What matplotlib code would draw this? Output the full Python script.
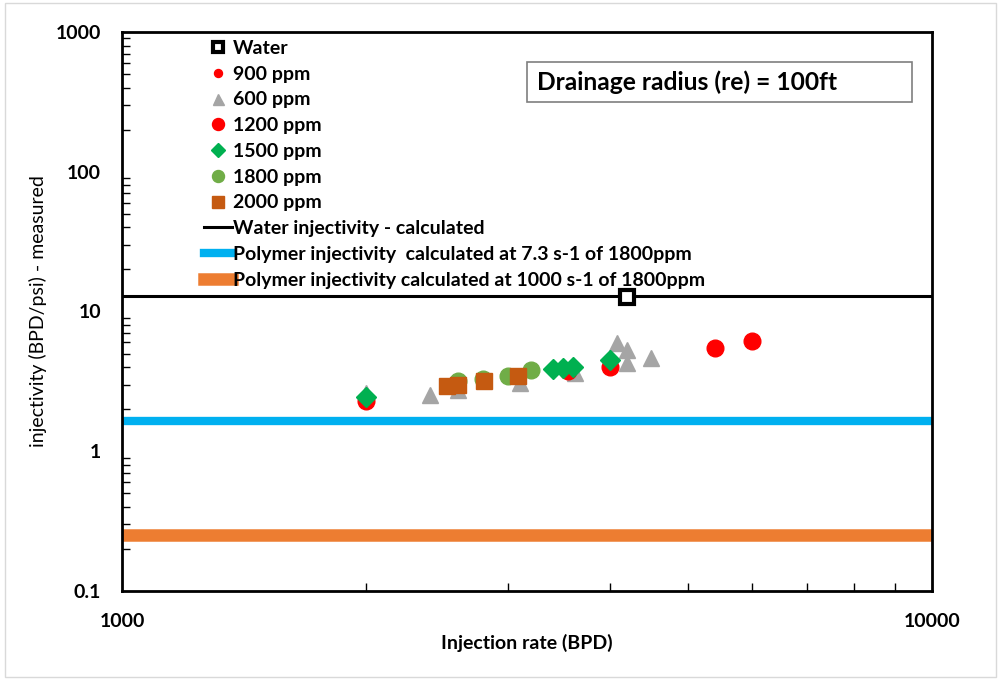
import matplotlib
matplotlib.use('Agg')
import matplotlib.pyplot as plt
from matplotlib.patches import Rectangle
import numpy as np

plt.rcParams['font.family'] = ['Lato', 'DejaVu Sans']

# measured data (injection rate BPD, injectivity BPD/psi)
water_x = [4200]
water_y = [12.6]
p900_x = [2000, 4000]
p900_y = [2.3, 4.0]
p600_x = [2000, 2400, 2600, 3100, 3620, 4080, 4200, 4200, 4500]
p600_y = [2.6, 2.54, 2.76, 3.1, 3.65, 5.97, 5.34, 4.31, 4.64]
p1200_x = [2000, 3550, 4000, 5400, 6000]
p1200_y = [2.3, 3.73, 4.03, 5.49, 6.13]
p1500_x = [2000, 3400, 3500, 3600, 4000]
p1500_y = [2.43, 3.88, 3.95, 4.01, 4.53]
p1800_x = [2600, 2790, 3000, 3200]
p1800_y = [3.17, 3.31, 3.44, 3.84]
p2000_x = [2520, 2600, 2800, 3080]
p2000_y = [2.95, 2.98, 3.17, 3.44]

# calculated injectivities
water_calc = 13.0
poly_low_shear = 1.65
poly_high_shear = 0.25

fig = plt.figure(figsize=(10.01, 6.80), dpi=100)
ax = fig.add_axes([0.1219, 0.1309, 0.8092, 0.8221])

ax.axhline(water_calc, color='black', lw=2.2, zorder=1,
           label='Water injectivity - calculated')
ax.axhline(poly_low_shear, color='#00B0F0', lw=6, zorder=1,
           label='Polymer injectivity  calculated at 7.3 s-1 of 1800ppm')
ax.axhline(poly_high_shear, color='#ED7D31', lw=9, zorder=1,
           label='Polymer injectivity calculated at 1000 s-1 of 1800ppm')

ax.plot(water_x, water_y, 's', ms=10, mfc='white', mec='black', mew=3,
        ls='none', label='Water', zorder=3)
ax.plot(p900_x, p900_y, 'o', ms=8, color='#FF0000', ls='none',
        label='900 ppm', zorder=2)
ax.plot(p600_x, p600_y, '^', ms=11, color='#A5A5A5', ls='none',
        label='600 ppm', zorder=2)
ax.plot(p1200_x, p1200_y, 'o', ms=12, color='#FF0000', ls='none',
        label='1200 ppm', zorder=2)
ax.plot(p1500_x, p1500_y, 'D', ms=10, color='#00B050', ls='none',
        label='1500 ppm', zorder=4)
ax.plot(p1800_x, p1800_y, 'o', ms=12, color='#70AD47', ls='none',
        label='1800 ppm', zorder=2)
ax.plot(p2000_x, p2000_y, 's', ms=11.5, color='#C55A11', ls='none',
        label='2000 ppm', zorder=3)

ax.set_xscale('log')
ax.set_yscale('log')
ax.set_xlim(1000, 10000)
ax.set_ylim(0.1, 1000)

for s in ax.spines.values():
    s.set_linewidth(2)

ax.tick_params(which='major', length=0, labelsize=14)
ax.tick_params(which='minor', direction='in', length=6, width=1)
ax.tick_params(axis='x', which='major', pad=16)
ax.tick_params(axis='y', which='major', pad=15)
ax.yaxis.set_minor_formatter(matplotlib.ticker.NullFormatter())
ax.xaxis.set_minor_formatter(matplotlib.ticker.NullFormatter())
ax.set_xticks([1000, 10000])
ax.set_xticklabels(['1000', '10000'])
ax.set_yticks([0.1, 1, 10, 100, 1000])
ax.set_yticklabels(['0.1', '1', '10', '100', '1000'])
for lab in ax.get_xticklabels() + ax.get_yticklabels():
    lab.set_fontweight('bold')

ax.set_xlabel('Injection rate (BPD)', fontsize=14, fontweight='bold', labelpad=3)
ax.set_ylabel('injectivity (BPD/psi) - measured', fontsize=14, labelpad=6)

h, l = ax.get_legend_handles_labels()
order = [3, 4, 5, 6, 7, 8, 9, 0, 1, 2]
leg = ax.legend([h[i] for i in order], [l[i] for i in order],
                loc='upper left', bbox_to_anchor=(0.085, 1.010),
                frameon=False, fontsize=14, handlelength=1.4,
                handletextpad=0.05, labelspacing=0.45, borderpad=0.2,
                markerscale=0.72)
for t in leg.get_texts():
    t.set_fontweight('bold')

ax.add_patch(Rectangle((0.5, 0.875), 0.475, 0.071, transform=ax.transAxes,
                       fc='white', ec='#7F7F7F', lw=1.2, zorder=5))
ax.text(0.5123, 0.9106, 'Drainage radius (re) = 100ft', transform=ax.transAxes,
        fontsize=17.7, fontweight='bold', va='center', ha='left', zorder=6)

fig.patches.append(Rectangle((0.005, 0.005), 0.99, 0.99, transform=fig.transFigure,
                             fill=False, ec='#D9D9D9', lw=1))

fig.savefig('out.png', dpi=100)
